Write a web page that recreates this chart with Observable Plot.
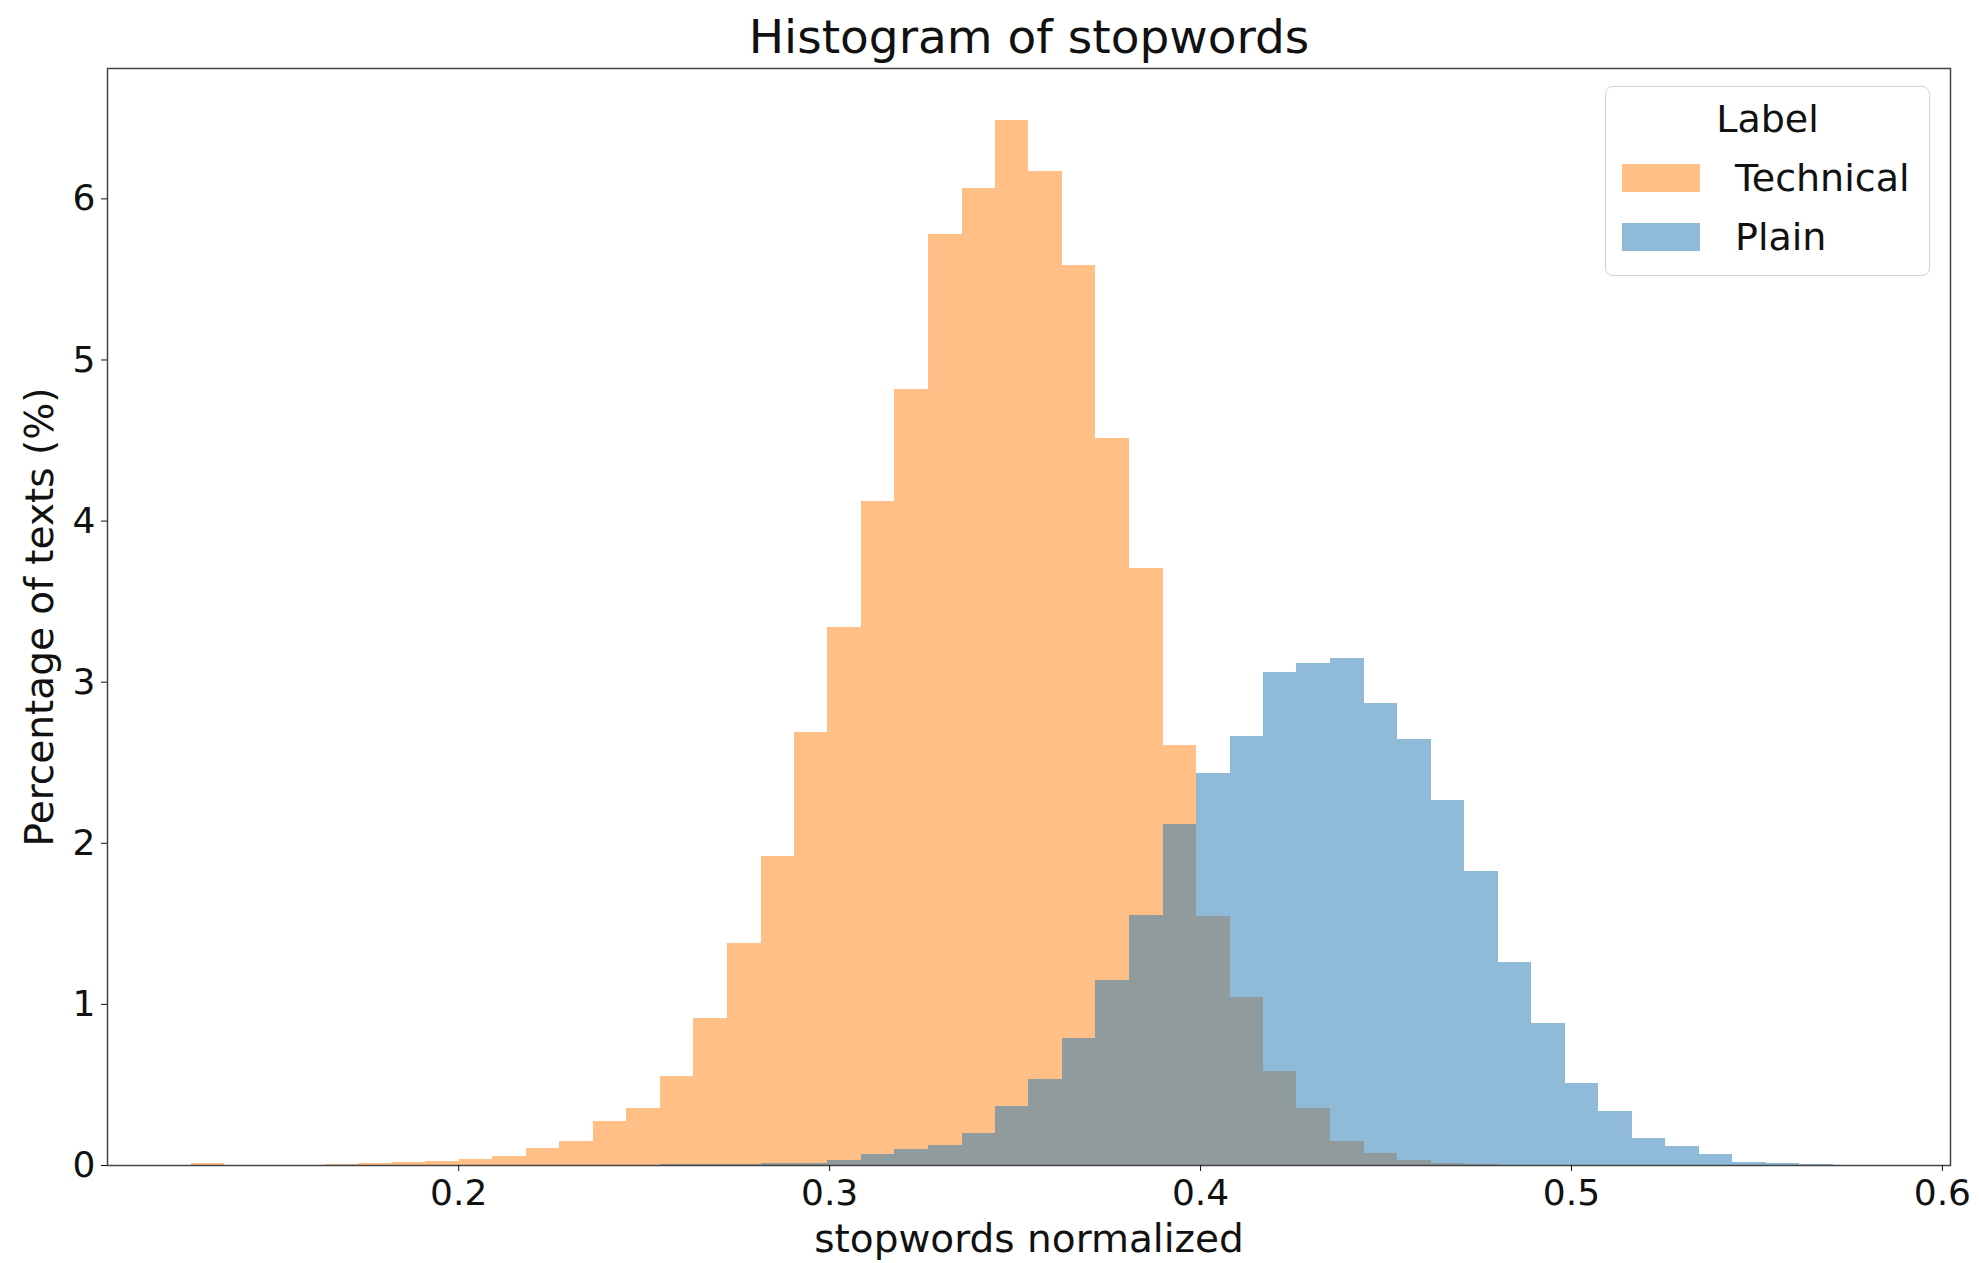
<!DOCTYPE html>
<html>
<head>
<meta charset="utf-8">
<script src="https://cdn.jsdelivr.net/npm/d3@7"></script>
<script src="https://cdn.jsdelivr.net/npm/@observablehq/plot@0.6"></script>
<style>
  html, body { margin: 0; padding: 0; background: #fff; }
  #wrap { position: relative; width: 1979px; height: 1263px; font-family: "DejaVu Sans", sans-serif; }
  #legend { position: absolute; left: 1605px; top: 86px; width: 325px; height: 190px; box-sizing: border-box;
            border: 1.5px solid #d4d4d4; border-radius: 8px; background: rgba(255,255,255,0.8); color: #111; }
  #legend .ttl { position: absolute; left: 0; width: 100%; top: 10px; text-align: center; font-size: 38px; line-height: 44px; }
  #legend .sw { position: absolute; left: 16px; width: 78px; height: 28px; }
  #legend .lb { position: absolute; left: 129px; font-size: 38px; line-height: 44px; }
</style>
</head>
<body>
<div id="wrap"></div>
<script>
// Bin edges (50 common bins)
const binEdges = [0.1279, 0.1369, 0.1460, 0.1550, 0.1640, 0.1731, 0.1821, 0.1911, 0.2002, 0.2092,
  0.2182, 0.2273, 0.2363, 0.2453, 0.2544, 0.2634, 0.2724, 0.2815, 0.2905, 0.2995,
  0.3086, 0.3176, 0.3266, 0.3357, 0.3447, 0.3537, 0.3628, 0.3718, 0.3809, 0.3899,
  0.3989, 0.4080, 0.4170, 0.4260, 0.4351, 0.4441, 0.4531, 0.4622, 0.4712, 0.4802,
  0.4893, 0.4983, 0.5073, 0.5164, 0.5254, 0.5344, 0.5435, 0.5525, 0.5615, 0.5706, 0.5796];

// Percentage of texts per bin
const technical = [0.012, 0, 0, 0, 0.008, 0.015, 0.02, 0.027, 0.038, 0.055,
  0.105, 0.152, 0.275, 0.356, 0.553, 0.914, 1.376, 1.92, 2.686, 3.34,
  4.123, 4.818, 5.78, 6.066, 6.485, 6.167, 5.586, 4.512, 3.706, 2.606,
  1.546, 1.044, 0.585, 0.352, 0.151, 0.076, 0.031, 0.01, 0.004, 0,
  0, 0, 0, 0, 0, 0, 0, 0, 0, 0];

const plain = [0, 0, 0, 0, 0, 0, 0, 0, 0, 0,
  0, 0, 0, 0, 0.008, 0.004, 0.008, 0.012, 0.015, 0.03,
  0.068, 0.099, 0.124, 0.197, 0.366, 0.532, 0.786, 1.148, 1.55, 2.116,
  2.434, 2.664, 3.061, 3.117, 3.144, 2.865, 2.643, 2.265, 1.826, 1.262,
  0.879, 0.51, 0.335, 0.165, 0.12, 0.066, 0.02, 0.015, 0.008, 0.003];

const seriesLabels = ["Technical", "Plain"];
const seriesColors = ["#ff7f0e", "#1f77b4"];
const xTicks = [0.2, 0.3, 0.4, 0.5, 0.6];
const yTicks = [0, 1, 2, 3, 4, 5, 6];
const titleText = "Histogram of stopwords";
const xLabel = "stopwords normalized";
const yLabel = "Percentage of texts (%)";
const legendTitle = "Label";

const rows = [];
[technical, plain].forEach((vals, s) => {
  vals.forEach((v, i) => rows.push({label: seriesLabels[s], x1: binEdges[i], x2: binEdges[i + 1], y: v}));
});

const lo = binEdges[0], hi = binEdges[binEdges.length - 1];
const pad = 0.05 * (hi - lo);
const ymax = d3.max(rows, d => d.y) * 1.05;

const chart = Plot.plot({
  width: 1979,
  height: 1263,
  marginLeft: 107,
  marginRight: 29,
  marginTop: 68,
  marginBottom: 98,
  style: {fontFamily: "DejaVu Sans", fontSize: "36px", color: "#111", background: "white"},
  x: {domain: [lo - pad, hi + pad]},
  y: {domain: [0, ymax]},
  color: {domain: seriesLabels, range: seriesColors},
  marks: [
    Plot.rect(rows, {x1: "x1", x2: "x2", y1: 0, y2: "y", fill: "label", fillOpacity: 0.5, shapeRendering: "crispEdges"}),
    Plot.frame({stroke: "#444", strokeWidth: 1.5}),
    Plot.axisX({ticks: xTicks, tickFormat: d3.format(".1f"), tickSize: 6, tickPadding: 8, label: null, fontSize: 36}),
    Plot.axisY({ticks: yTicks, tickFormat: d3.format("d"), tickSize: 6, tickPadding: 6, label: null, fontSize: 36}),
    Plot.text([titleText], {text: d => d, frameAnchor: "top", lineAnchor: "bottom", dy: -16, fontSize: 47}),
    Plot.text([xLabel], {text: d => d, frameAnchor: "bottom", lineAnchor: "bottom", dy: 86, fontSize: 39}),
    Plot.text([yLabel], {text: d => d, frameAnchor: "left", textAnchor: "middle", lineAnchor: "middle", rotate: -90, dx: -67, fontSize: 39})
  ]
});

const wrap = document.getElementById("wrap");
wrap.appendChild(chart);

// Legend
const legend = document.createElement("div");
legend.id = "legend";
const t = document.createElement("div");
t.className = "ttl";
t.textContent = legendTitle;
legend.appendChild(t);
const rowTops = [77, 136];
seriesLabels.forEach((lab, i) => {
  const sw = document.createElement("div");
  sw.className = "sw";
  sw.style.top = rowTops[i] + "px";
  sw.style.background = seriesColors[i];
  sw.style.opacity = 0.5;
  legend.appendChild(sw);
  const lb = document.createElement("div");
  lb.className = "lb";
  lb.style.top = (rowTops[i] - 8) + "px";
  lb.textContent = lab;
  legend.appendChild(lb);
});
wrap.appendChild(legend);
</script>
</body>
</html>
